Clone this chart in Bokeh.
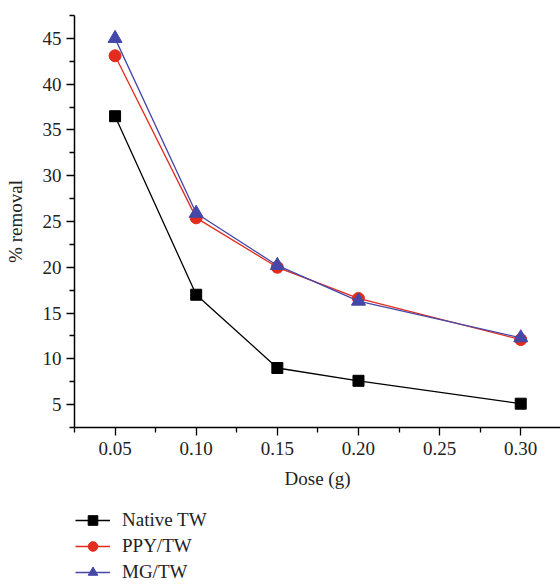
from bokeh.plotting import figure
from bokeh.layouts import column
from bokeh.models import Range1d, FixedTicker, PrintfTickFormatter, Legend, LegendItem
from bokeh.embed import file_html
from bokeh.resources import INLINE

dose = [0.05, 0.10, 0.15, 0.20, 0.30]
native_tw = [36.5, 17.0, 9.0, 7.6, 5.1]
ppy_tw = [43.1, 25.4, 20.0, 16.6, 12.1]
mg_tw = [45.0, 25.9, 20.2, 16.3, 12.3]
series_names = ["Native TW", "PPY/TW", "MG/TW"]

x_major = [0.05, 0.10, 0.15, 0.20, 0.25, 0.30]
x_minor = [0.025, 0.075, 0.125, 0.175, 0.225, 0.275, 0.325]
y_major = [5, 10, 15, 20, 25, 30, 35, 40, 45]
y_minor = [2.5, 7.5, 12.5, 17.5, 22.5, 27.5, 32.5, 37.5, 42.5, 47.5]

FONT = "Liberation Serif"
RED = "#e32b1e"
BLUE = "#4448a8"
styles = [("black", "square", 11), (RED, "circle", 12), (BLUE, "triangle", 14)]

p = figure(width=560, height=505,
           output_backend="svg", toolbar_location=None,
           x_range=Range1d(0.025, 0.3245), y_range=Range1d(2.5, 47.5),
           min_border_left=74, min_border_top=15, min_border_right=0, min_border_bottom=78)
p.grid.visible = False
p.outline_line_color = None

p.xaxis.ticker = FixedTicker(ticks=x_major, minor_ticks=x_minor)
p.yaxis.ticker = FixedTicker(ticks=y_major, minor_ticks=y_minor)
p.xaxis.formatter = PrintfTickFormatter(format="%.2f")
p.xaxis.axis_label = "Dose (g)"
p.yaxis.axis_label = "% removal"
for ax in (p.xaxis, p.yaxis):
    ax.axis_line_width = 1.5
    ax.major_tick_line_width = 1.3
    ax.minor_tick_line_width = 1.3
    ax.major_tick_out = 8
    ax.major_tick_in = 0
    ax.minor_tick_out = 5
    ax.minor_tick_in = 0
    ax.major_label_text_font = FONT
    ax.major_label_text_font_size = "19px"
    ax.major_label_text_color = "#222222"
    ax.axis_label_text_font = FONT
    ax.axis_label_text_font_size = "19px"
    ax.axis_label_text_font_style = "normal"
    ax.axis_label_text_color = "#222222"
p.xaxis.major_label_standoff = 6
p.xaxis.axis_label_standoff = 10
p.yaxis.major_label_standoff = 5
p.yaxis.axis_label_standoff = 14

for ys, (col, mk, sz) in zip([native_tw, ppy_tw, mg_tw], styles):
    p.line(dose, ys, line_color=col, line_width=1.3)
    p.scatter(dose, ys, marker=mk, size=sz, fill_color=col, line_color=col)

# legend panel below the chart (hidden NaN keys only supply legend glyph styles)
nan = float("nan")
q = figure(width=560, height=79, output_backend="svg", toolbar_location=None,
           x_range=Range1d(0, 1), y_range=Range1d(0, 1),
           min_border_left=0, min_border_right=0, min_border_top=0, min_border_bottom=0)
q.axis.visible = False
q.grid.visible = False
q.outline_line_color = None
items = []
for name, (col, mk, sz) in zip(series_names, styles):
    lr = q.line([nan, nan], [nan, nan], line_color=col, line_width=1.3)
    sr = q.scatter([nan], [nan], marker=mk, size=sz, fill_color=col, line_color=col)
    items.append(LegendItem(label=name, renderers=[lr, sr]))
legend = Legend(items=items, location=(1, 0), orientation="vertical")
legend.border_line_color = None
legend.background_fill_alpha = 0
legend.margin = 0
legend.padding = 0
legend.spacing = 2
legend.glyph_width = 35
legend.glyph_height = 24
legend.label_height = 24
legend.label_standoff = 12
legend.label_text_font = FONT
legend.label_text_font_size = "19px"
legend.label_text_color = "#222222"
q.add_layout(legend, "center")

layout = column(p, q, spacing=0)
open("out.html", "w").write(file_html(layout, INLINE))
